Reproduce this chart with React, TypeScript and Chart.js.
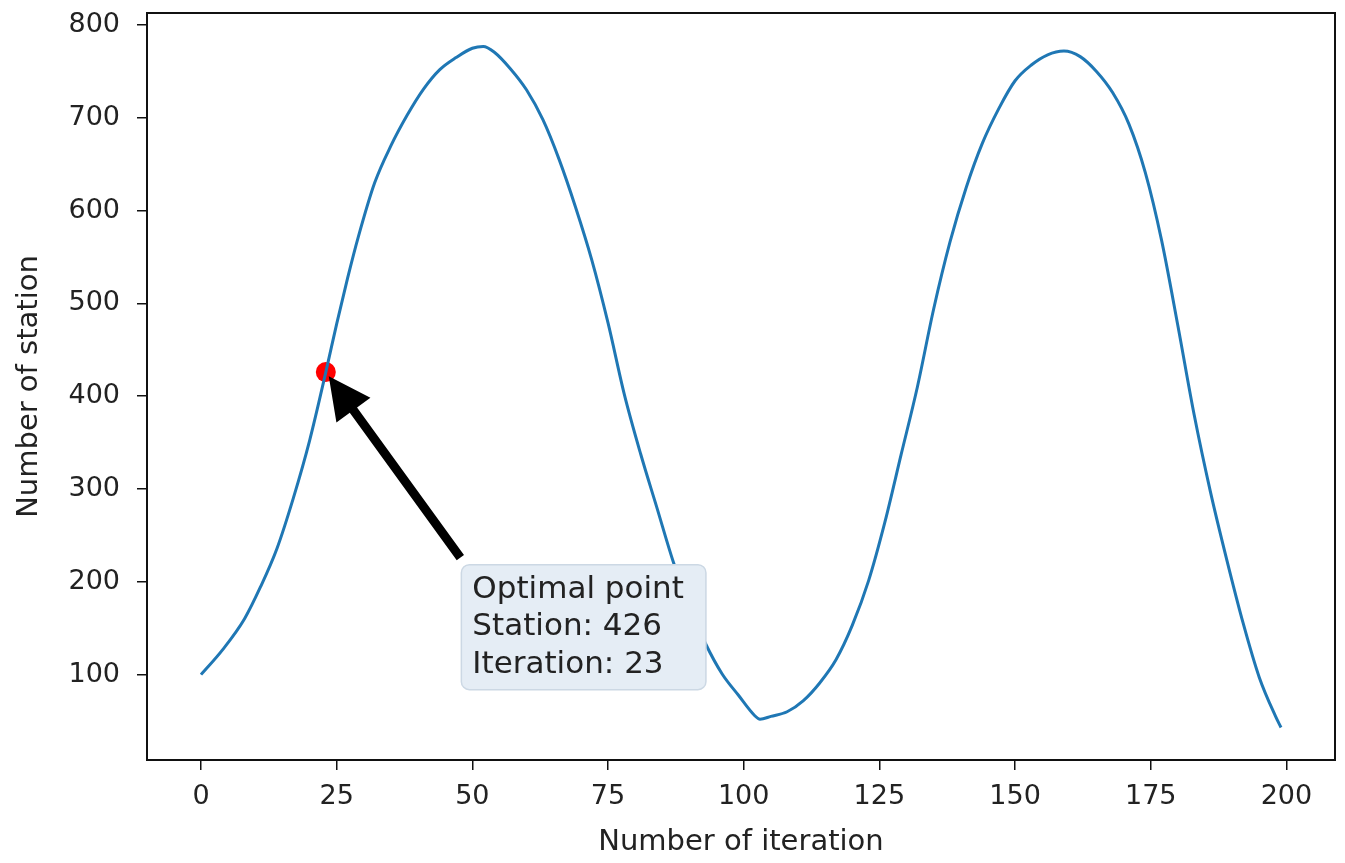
import React, { useEffect, useRef } from "react";
import { Chart, registerables } from "chart.js";

Chart.register(...registerables);

// ---- data ----
const iterations = [
  0, 4, 8, 11, 14, 17, 20, 23, 25, 27, 29, 32, 35, 38, 41, 44, 47, 50, 52, 54,
  57, 60, 63, 66, 69, 72, 75, 78, 81, 84, 87, 90, 93, 96, 99, 102, 103, 105,
  108, 111, 114, 117, 120, 123, 126, 129, 132, 135, 138, 141, 144, 147, 150,
  153, 156, 159, 162, 165, 168, 171, 174, 177, 180, 183, 186, 189, 192, 195,
  198, 199,
];
const stations = [
  100, 127, 160, 195, 236, 290, 352, 426, 478, 527, 572, 630, 670, 703, 731,
  752, 765, 775, 777, 771, 753, 730, 698, 655, 604, 547, 479, 402, 338, 280,
  222, 174, 133, 101, 78, 56, 52, 55, 60, 72, 91, 116, 153, 201, 264, 337, 410,
  494, 566, 625, 673, 710, 740, 757, 768, 772, 766, 750, 727, 693, 641, 568,
  476, 380, 297, 224, 156, 97, 55, 43,
];
const optimalIteration = [23];
const optimalStation = [426];
const xTicks = [0, 25, 50, 75, 100, 125, 150, 175, 200];
const yTicks = [100, 200, 300, 400, 500, 600, 700, 800];
const annotationLines = ["Optimal point", "Station: 426", "Iteration: 23"];
const annotationAnchor = { x: 50, y: 100 };
const xTitle = "Number of iteration";
const yTitle = "Number of station";

const FONT = '"DejaVu Sans", "Liberation Sans", sans-serif';
const TEXT = "#222222";

const annotationPlugin = {
  id: "annotationAndFrame",
  afterDatasetsDraw(chart: any) {
    const { ctx, scales } = chart;
    const x = scales.x;
    const y = scales.y;
    const px = x.getPixelForValue(annotationAnchor.x);
    const py = y.getPixelForValue(annotationAnchor.y);
    ctx.save();
    ctx.font = `31px ${FONT}`;
    const w = Math.max(...annotationLines.map((t) => ctx.measureText(t).width));
    // box
    const bx = px - 11;
    const by = py - 110;
    const bw = w + 11 + 22;
    const bh = 125;
    ctx.beginPath();
    (ctx as any).roundRect(bx, by, bw, bh, 8);
    ctx.fillStyle = "#e5edf5";
    ctx.fill();
    ctx.strokeStyle = "#ccd8e4";
    ctx.lineWidth = 1.5;
    ctx.stroke();
    ctx.fillStyle = TEXT;
    ctx.textAlign = "left";
    ctx.textBaseline = "alphabetic";
    annotationLines.forEach((t, i) => {
      ctx.fillText(t, px, py - 2 - (annotationLines.length - 1 - i) * 37.5);
    });
    // arrow
    const tx = px - 12;
    const ty = py - 117;
    const ox = x.getPixelForValue(optimalIteration[0]);
    const oy = y.getPixelForValue(optimalStation[0]);
    const dx = ox - tx;
    const dy = oy - ty;
    const L = Math.hypot(dx, dy);
    const ux = dx / L;
    const uy = dy / L;
    const hx = ox - ux * 5;
    const hy = oy - uy * 5;
    const headLen = 42;
    const headW = 42;
    const shaftW = 9;
    const cx = hx - ux * headLen;
    const cy = hy - uy * headLen;
    const nx = -uy;
    const ny = ux;
    ctx.beginPath();
    ctx.moveTo(tx + (nx * shaftW) / 2, ty + (ny * shaftW) / 2);
    ctx.lineTo(cx + (nx * shaftW) / 2, cy + (ny * shaftW) / 2);
    ctx.lineTo(cx + (nx * headW) / 2, cy + (ny * headW) / 2);
    ctx.lineTo(hx, hy);
    ctx.lineTo(cx - (nx * headW) / 2, cy - (ny * headW) / 2);
    ctx.lineTo(cx - (nx * shaftW) / 2, cy - (ny * shaftW) / 2);
    ctx.lineTo(tx - (nx * shaftW) / 2, ty - (ny * shaftW) / 2);
    ctx.closePath();
    ctx.fillStyle = "#000000";
    ctx.fill();
    ctx.restore();
  },
  afterDraw(chart: any) {
    const { ctx, chartArea: a } = chart;
    ctx.save();
    ctx.strokeStyle = "#111111";
    ctx.lineWidth = 2;
    ctx.strokeRect(a.left, a.top, a.right - a.left, a.bottom - a.top);
    ctx.restore();
  },
};

export default function App() {
  const ref = useRef<HTMLCanvasElement | null>(null);

  useEffect(() => {
    if (!ref.current) return;
    const lineData = iterations.map((it, i) => ({ x: it, y: stations[i] }));
    const pointData = optimalIteration.map((it, i) => ({ x: it, y: optimalStation[i] }));
    const chart = new Chart(ref.current, {
      type: "line",
      data: {
        datasets: [
          {
            data: lineData,
            borderColor: "#1f77b4",
            borderWidth: 3,
            pointRadius: 0,
            fill: false,
            cubicInterpolationMode: "monotone",
          },
          {
            type: "scatter",
            data: pointData,
            pointRadius: 10,
            pointBackgroundColor: "#ff0000",
            pointBorderColor: "#ff0000",
            pointBorderWidth: 0,
            showLine: false,
          } as any,
        ],
      },
      options: {
        responsive: false,
        animation: false,
        devicePixelRatio: 1,
        layout: { padding: { top: 13, right: 5, left: 0, bottom: 0 } },
        plugins: {
          legend: { display: false },
          tooltip: { enabled: false },
          title: { display: false },
        },
        scales: {
          x: {
            type: "linear",
            min: -9.95,
            max: 208.95,
            afterBuildTicks: (s: any) => {
              s.ticks = xTicks.map((v) => ({ value: v }));
            },
            afterFit: (s: any) => {
              s.height = 103;
              s.paddingLeft = 0;
              s.paddingRight = 0;
            },
            border: { display: false },
            grid: {
              display: true,
              drawOnChartArea: false,
              drawTicks: true,
              tickLength: 10,
              color: "#111111",
              lineWidth: 1.5,
            },
            ticks: {
              autoSkip: false,
              maxRotation: 0,
              padding: 11,
              color: TEXT,
              font: { family: FONT, size: 27 },
            },
            title: {
              display: true,
              text: xTitle,
              color: TEXT,
              font: { family: FONT, size: 29 },
              padding: { top: 0, bottom: 3 },
            },
          },
          y: {
            type: "linear",
            min: 8,
            max: 813,
            afterBuildTicks: (s: any) => {
              s.ticks = yTicks.map((v) => ({ value: v }));
            },
            afterFit: (s: any) => {
              s.width = 147;
              s.paddingTop = 0;
              s.paddingBottom = 0;
            },
            border: { display: false },
            grid: {
              display: true,
              drawOnChartArea: false,
              drawTicks: true,
              tickLength: 10,
              color: "#111111",
              lineWidth: 1.5,
            },
            ticks: {
              autoSkip: false,
              padding: 17,
              color: TEXT,
              font: { family: FONT, size: 27 },
            },
            title: {
              display: true,
              text: yTitle,
              color: TEXT,
              font: { family: FONT, size: 29 },
              padding: { top: 12, bottom: 0 },
            },
          },
        },
      },
      plugins: [annotationPlugin],
    });
    return () => chart.destroy();
  }, []);

  return (
    <div
      style={{
        position: "fixed",
        left: 0,
        top: 0,
        width: 1345,
        height: 863,
        background: "#ffffff",
      }}
    >
      <canvas ref={ref} width={1345} height={863} style={{ width: 1345, height: 863, display: "block" }} />
    </div>
  );
}
